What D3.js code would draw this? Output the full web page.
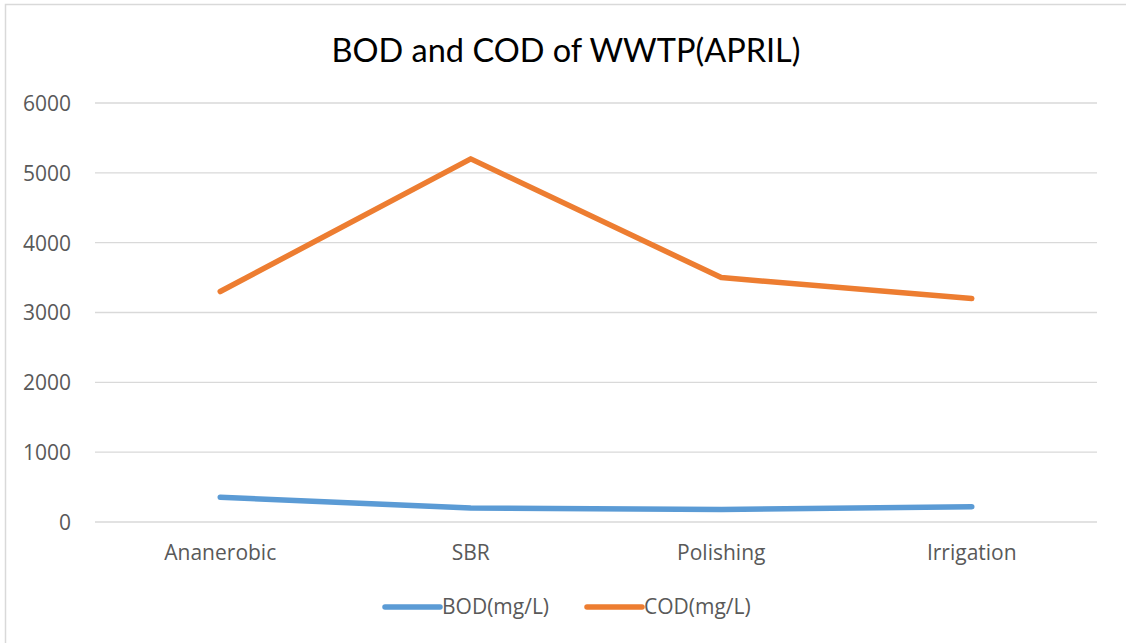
<!DOCTYPE html>
<html><head><meta charset="utf-8">
<script src="https://cdn.jsdelivr.net/npm/d3@7"></script>
<style>html,body{margin:0;padding:0;background:#fff;}svg{display:block;}</style>
</head><body>
<svg id="c" width="1126" height="643"></svg>
<script>
const categories = ["Ananerobic", "SBR", "Polishing", "Irrigation"];
const bodValues = [355, 200, 180, 220];
const codValues = [3300, 5200, 3500, 3200];
const yTicks = [0, 1000, 2000, 3000, 4000, 5000, 6000];
const seriesNames = ["BOD(mg/L)", "COD(mg/L)"];
const seriesColors = ["#5B9BD5", "#ED7D31"];
const chartTitle = "BOD and COD of WWTP(APRIL)";

(function () {
const svg = d3.select("#c");
const font = "Lato, 'Open Sans', sans-serif";
const font2 = "'Open Sans', Lato, sans-serif";
// chart border
svg.append("path").attr("d", "M5.5,643 L5.5,4.5 L1126,4.5").attr("fill","none").attr("stroke","#d9d9d9").attr("stroke-width",1.5);

const pL = 95, pR = 1097, pT = 103, pB = 522;
const x = d3.scaleBand().domain(categories).range([pL, pR]);
const y = d3.scaleLinear().domain([0, 6000]).range([pB, pT]);

// gridlines
svg.append("g").selectAll("line").data(yTicks).join("line")
  .attr("x1", pL).attr("x2", pR)
  .attr("y1", d => y(d)).attr("y2", d => y(d))
  .attr("stroke", "#d9d9d9").attr("stroke-width", 1.3);

// y axis labels
const yAxis = d3.axisLeft(y).tickValues(yTicks).tickFormat(d3.format("d")).tickSize(0).tickPadding(0);
const gy = svg.append("g").attr("transform", `translate(${pL-24},0)`).call(yAxis);
gy.select(".domain").remove();
gy.selectAll("text").attr("font-family", font2).attr("font-size", 21).attr("fill", "#595959").attr("dy", "0.35em");

// x axis labels
const xAxis = d3.axisBottom(x).tickSize(0).tickPadding(0);
const gx = svg.append("g").attr("transform", `translate(0,${pB+23})`).call(xAxis);
gx.select(".domain").remove();
gx.selectAll("text").attr("font-family", font2).attr("font-size", 21).attr("fill", "#595959").attr("dy", "0.71em");

const line = d3.line().x((d, i) => x(categories[i]) + x.bandwidth()/2).y(d => y(d));
[bodValues, codValues].forEach((vals, k) => {
  svg.append("path").datum(vals).attr("d", line)
    .attr("fill", "none").attr("stroke", seriesColors[k]).attr("stroke-width", 5.5)
    .attr("stroke-linecap", "round").attr("stroke-linejoin", "round");
});

// title
svg.append("text").attr("x", 566).attr("y", 62).attr("text-anchor", "middle")
  .attr("font-family", font).attr("font-size", 32.5).attr("fill", "#000").text(chartTitle);

// legend
const legX = [385, 587];
seriesNames.forEach((n, k) => {
  const g = svg.append("g").attr("transform", `translate(${legX[k]},607)`);
  g.append("line").attr("x1", 0).attr("x2", 55).attr("y1", 0).attr("y2", 0)
    .attr("stroke", seriesColors[k]).attr("stroke-width", 5.5).attr("stroke-linecap", "round");
  g.append("text").attr("x", 57).attr("y", 0).attr("dy", "0.35em")
    .attr("font-family", font2).attr("font-size", 21).attr("fill", "#595959").text(n);
});
})();
</script>
</body></html>
